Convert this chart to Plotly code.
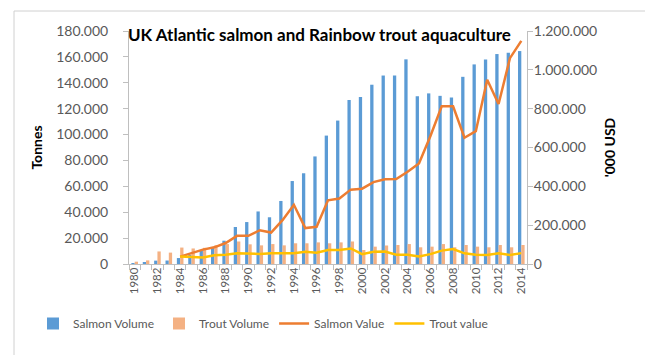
import plotly.graph_objects as go

years = list(range(1980, 2015))

salmon_volume = [600, 1100, 2600, 2700, 4600, 6900, 10300, 12700, 18000, 28600,
                 32400, 40600, 36100, 48700, 64100, 70100, 83100, 99200, 110800, 126700,
                 129000, 138500, 145600, 145600, 158100, 129600, 131800, 129900, 128600, 144600,
                 154200, 158000, 162200, 163200, 164500]

trout_volume = [1800, 2800, 9700, 8800, 12700, 12000, 12500, 14500, 15400, 17400,
                15200, 14400, 15400, 14400, 16000, 16000, 16700, 16000, 16700, 17400,
                10800, 13400, 14300, 14700, 15400, 12900, 13400, 15400, 12900, 14700,
                13400, 12900, 14700, 12900, 14700]

value_years = list(range(1984, 2015))
salmon_value = [38000, 55000, 74000, 86000, 108000, 145000, 145000, 174000, 162000, 226000,
                305000, 185000, 192000, 328000, 337000, 383000, 388000, 422000, 436000, 438000,
                475000, 518000, 658000, 812000, 812000, 650000, 684000, 949000, 824000, 1060000,
                1149000]
trout_value = [39000, 37000, 34000, 45000, 48000, 55000, 52000, 52000, 55000, 55000,
               56000, 63000, 58000, 72000, 72000, 80000, 51000, 63000, 64000, 48000,
               48000, 39000, 51000, 69000, 77000, 55000, 48000, 46000, 55000, 46000,
               56000]

tick_years = list(range(1980, 2015, 2))

W, H = 653, 355
L, R, T, B = 121, 134, 23, 99
pw, ph = W - L - R, H - T - B

def px_x(p):
    return (p - L) / pw

def px_y(p):
    return (H - B - p) / ph

font = "Lato, 'Open Sans', sans-serif"
grey = "#595959"
axis_col = "#BFBFBF"

fig = go.Figure()
fig.add_trace(go.Bar(x=years, y=salmon_volume, name="Salmon Volume",
                     marker=dict(color="#5B9BD5", line=dict(width=0))))
fig.add_trace(go.Bar(x=years, y=trout_volume, name="Trout Volume",
                     marker=dict(color="#F4B183", line=dict(width=0))))
fig.add_trace(go.Scatter(x=value_years, y=salmon_value, name="Salmon Value", yaxis="y2",
                         mode="lines", line=dict(color="#ED7D31", width=2.5)))
fig.add_trace(go.Scatter(x=value_years, y=trout_value, name="Trout value", yaxis="y2",
                         mode="lines", line=dict(color="#FFC000", width=2.5)))

fig.update_layout(
    width=W, height=H,
    margin=dict(l=L, r=R, t=T, b=B, pad=0),
    paper_bgcolor="white", plot_bgcolor="white",
    separators=",.",
    barmode="group", bargap=0.42, bargroupgap=0,
    font=dict(family=font, color=grey),
    showlegend=True,
    title=dict(text="<b>UK Atlantic salmon and Rainbow trout aquaculture</b>",
               x=120 / W, xanchor="left", xref="container",
               y=1 - 27 / H, yanchor="middle", yref="container",
               font=dict(family=font, size=17, color="#000000")),
    xaxis=dict(range=[1979.5, 2014.5], tickmode="array", tickvals=tick_years,
               ticktext=[str(y) for y in tick_years], tickangle=-90,
               ticks="", showgrid=False, zeroline=False,
               showline=True, linecolor=axis_col, linewidth=1,
               ticklabelstandoff=-2,
               tickfont=dict(size=11.5, color=grey),
               minor=dict(ticks="outside", tick0=1979.5, dtick=1, ticklen=5,
                          tickcolor=axis_col, showgrid=False)),
    yaxis=dict(range=[0, 180000], dtick=20000, tickformat=",d",
               showgrid=False, zeroline=False, showline=True, linecolor=axis_col,
               ticks="outside", ticklen=5, tickcolor=axis_col,
               ticklabelstandoff=12,
               tickfont=dict(size=14, color=grey),
               title=dict(text="<b>Tonnes</b>", standoff=10,
                          font=dict(size=14, color="#000000"))),
    yaxis2=dict(range=[0, 1200000], dtick=200000, tickformat=",d", overlaying="y",
                side="right", showgrid=False, zeroline=False, showline=True,
                linecolor=axis_col, ticks="outside", ticklen=5, tickcolor=axis_col,
                ticklabelstandoff=-2,
                tickfont=dict(size=14, color=grey),
                title=dict(text="<b>'000 USD</b>", standoff=8,
                           font=dict(size=14, color="#000000"))),
    legend=dict(orientation="h", x=px_x(25), xanchor="left",
                y=px_y(301), yanchor="top",
                font=dict(size=12, color=grey), bgcolor="rgba(0,0,0,0)"),
    shapes=[dict(type="rect", xref="paper", yref="paper",
                 x0=px_x(6), x1=px_x(646), y0=px_y(349), y1=px_y(3),
                 line=dict(color="#D0D0D0", width=1), layer="below")],
)

fig.write_html("out.html")
